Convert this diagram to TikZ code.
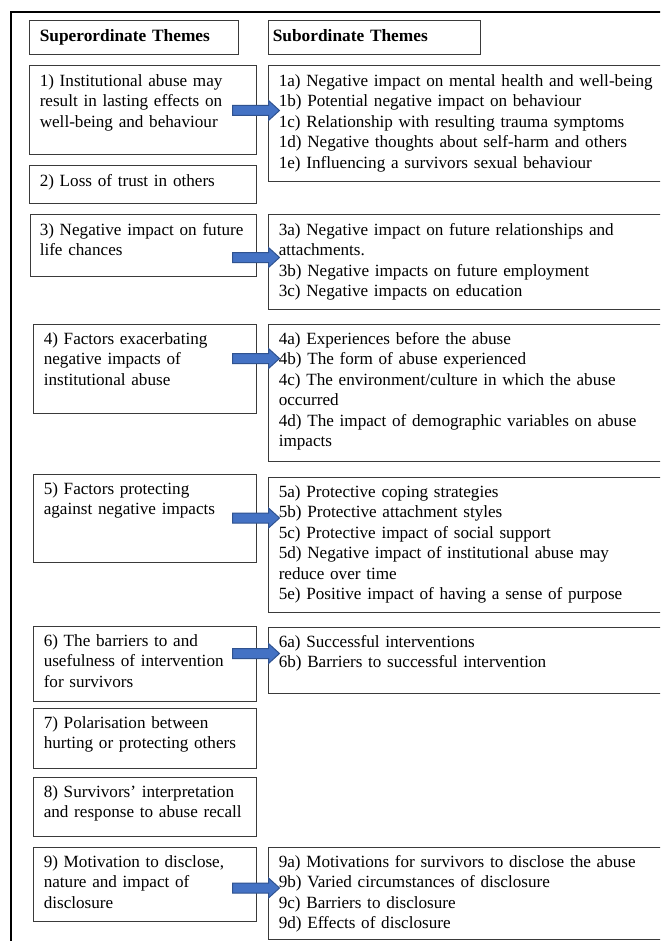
\documentclass[tikz,border=0pt]{standalone}
\usepackage{fontspec}
\setmainfont{Liberation Serif}
\usetikzlibrary{fit,calc}
\definecolor{arrfill}{HTML}{4472C4}
\definecolor{arrline}{HTML}{2F528F}
\definecolor{boxline}{HTML}{3A3A3A}
\begin{document}
\begin{tikzpicture}[x=0.75pt, y=-0.75pt,
  box/.style={draw=boxline, line width=0.75pt, inner sep=0pt},
  outerframe/.style={draw=black, line width=0.9pt},
  txt/.style={inner sep=0pt, anchor=base west, align=left, text width=340pt,
    font=\fontsize{12.85pt}{15.3pt}\selectfont},
  hdr/.style={txt, font=\fontsize{13pt}{15.3pt}\selectfont\bfseries},
  barr/.pic={\draw[fill=arrfill, draw=arrline, line width=0.75pt]
    (0,-5) -- (36,-5) -- (36,-10) -- (47,0) -- (36,10) -- (36,5) -- (0,5) -- cycle;}
]
\useasboundingbox (0,0) rectangle (660,941);
\clip (0,0) rectangle (660,941);
\fill[white] (0,0) rectangle (660,941);
% outer frame (cut off at right and bottom)
\draw[outerframe] (11,960) -- (11,12) -- (690,12);

% headers
\node[box, fit={(29,21) (238,55)}] (hs) {};
\node[box, fit={(268,21) (480,55)}] (hb) {};
\node[hdr] (hst) at ([shift={(11,21)}]hs.north west) {Superordinate Themes};
\node[hdr] (hbt) at ([shift={(5,21)}]hb.north west) {Subordinate Themes};

% left boxes
\node[box, fit={(29,66) (256,155)}] (l1) {};
\node[box, fit={(29,166) (256,204)}] (l2) {};
\node[box, fit={(30,215) (256,276)}] (l3) {};
\node[box, fit={(33,324) (256,413)}] (l4) {};
\node[box, fit={(33,474) (256,562)}] (l5) {};
\node[box, fit={(33,626) (256,701)}] (l6) {};
\node[box, fit={(33,708) (256,768)}] (l7) {};
\node[box, fit={(33,777) (256,836)}] (l8) {};
\node[box, fit={(33,847) (256,921)}] (l9) {};

% right boxes
\node[box, fit={(268,66) (690,182)}] (r1) {};
\node[box, fit={(268,215) (690,309)}] (r3) {};
\node[box, fit={(268,324) (690,461)}] (r4) {};
\node[box, fit={(268,477) (690,612)}] (r5) {};
\node[box, fit={(268,627) (690,693)}] (r6) {};
\node[box, fit={(268,847) (690,939)}] (r9) {};

% left texts
\node[txt] (lt1) at ([shift={(11,21)}]l1.north west) {1) Institutional abuse may\\result in lasting effects on\\well-being and behaviour};
\node[txt] (lt2) at ([shift={(11,21)}]l2.north west) {2) Loss of trust in others};
\node[txt] (lt3) at ([shift={(10,21)}]l3.north west) {3) Negative impact on future\\life chances};
\node[txt] (lt4) at ([shift={(11,21)}]l4.north west) {4) Factors exacerbating\\negative impacts of\\institutional abuse};
\node[txt] (lt5) at ([shift={(11,21)}]l5.north west) {5) Factors protecting\\against negative impacts};
\node[txt] (lt6) at ([shift={(11,21)}]l6.north west) {6) The barriers to and\\usefulness of intervention\\for survivors};
\node[txt] (lt7) at ([shift={(11,21)}]l7.north west) {7) Polarisation between\\hurting or protecting others};
\node[txt] (lt8) at ([shift={(11,21)}]l8.north west) {8) Survivors’ interpretation\\and response to abuse recall};
\node[txt] (lt9) at ([shift={(11,21)}]l9.north west) {9) Motivation to disclose,\\nature and impact of\\disclosure};

% right texts
\node[txt] (rt1) at ([shift={(11,21)}]r1.north west) {1a) Negative impact on mental health and well-being\\1b) Potential negative impact on behaviour\\1c) Relationship with resulting trauma symptoms\\1d) Negative thoughts about self-harm and others\\1e) Influencing a survivors sexual behaviour};
\node[txt] (rt3) at ([shift={(11,21)}]r3.north west) {3a) Negative impact on future relationships and\\attachments.\\3b) Negative impacts on future employment\\3c) Negative impacts on education};
\node[txt] (rt4) at ([shift={(11,21)}]r4.north west) {4a) Experiences before the abuse\\4b) The form of abuse experienced\\4c) The environment/culture in which the abuse\\occurred\\4d) The impact of demographic variables on abuse\\impacts};
\node[txt] (rt5) at ([shift={(11,21)}]r5.north west) {5a) Protective coping strategies\\5b) Protective attachment styles\\5c) Protective impact of social support\\5d) Negative impact of institutional abuse may\\reduce over time\\5e) Positive impact of having a sense of purpose};
\node[txt] (rt6) at ([shift={(11,21)}]r6.north west) {6a) Successful interventions\\6b) Barriers to successful intervention};
\node[txt] (rt9) at ([shift={(11,21)}]r9.north west) {9a) Motivations for survivors to disclose the abuse\\9b) Varied circumstances of disclosure\\9c) Barriers to disclosure\\9d) Effects of disclosure};

% block arrows
\coordinate (a1) at ($(l1.east)+(-24,0)$);
\coordinate (a3) at ($(l3.east)+(-24,12)$);
\coordinate (a4) at ($(l4.east)+(-24,-10)$);
\coordinate (a5) at ($(l5.east)+(-24,0)$);
\coordinate (a6) at ($(l6.east)+(-24,-10)$);
\coordinate (a9) at ($(l9.east)+(-24,4)$);
\foreach \a in {a1,a3,a4,a5,a6,a9} { \pic at (\a) {barr}; }
\end{tikzpicture}
\end{document}
